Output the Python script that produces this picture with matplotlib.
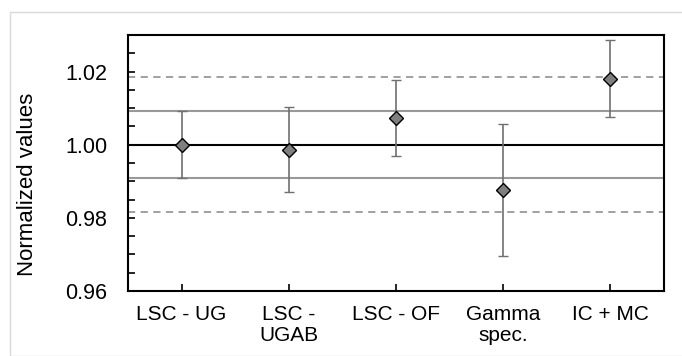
import matplotlib
matplotlib.use("Agg")
import matplotlib.pyplot as plt
from matplotlib.patches import Rectangle
from matplotlib.ticker import MultipleLocator

plt.rcParams['font.family'] = ['Liberation Sans', 'DejaVu Sans']

# Measurement methods and their normalized results with uncertainties
methods = ["LSC - UG", "LSC -\nUGAB", "LSC - OF", "Gamma\nspec.", "IC + MC"]
values = [1.000, 0.9986, 1.0074, 0.9876, 1.0180]
errors = [0.0092, 0.0116, 0.0104, 0.0180, 0.0105]

reference = 1.000
band_1sigma = 0.0092
band_2sigma = 0.0184

fig = plt.figure(figsize=(6.82, 3.56), dpi=100)
fig.patches.append(Rectangle((10 / 682, 0), 1.2, (356 - 12) / 356,
                             transform=fig.transFigure, fill=False,
                             edgecolor="#d9d9d9", linewidth=1.0))

ax = fig.add_axes([128 / 682, (356 - 291) / 356, (664 - 128) / 682, (291 - 35) / 356])

x = list(range(len(methods)))

ax.axhline(reference, color="black", lw=1.5, zorder=1)
ax.axhline(reference + band_1sigma, color="#999999", lw=1.5, zorder=1)
ax.axhline(reference - band_1sigma, color="#999999", lw=1.5, zorder=1)
ax.axhline(reference + band_2sigma, color="#999999", lw=1.3, ls=(0, (4, 3)), zorder=1)
ax.axhline(reference - band_2sigma, color="#999999", lw=1.3, ls=(0, (4, 3)), zorder=1)

ax.errorbar(x, values, yerr=errors, fmt="D", ms=7, mfc="#7f7f7f", mec="black",
            mew=1.0, ecolor="#707070", elinewidth=1.2, capsize=3.5, capthick=1.2,
            zorder=3)

ax.set_xlim(-0.5, len(methods) - 0.5)
ax.set_ylim(0.96, 1.03)
ax.set_xticks(x)
ax.set_xticklabels(methods, fontsize=15, linespacing=1.15)
ax.set_yticks([0.96, 0.98, 1.00, 1.02])
ax.set_yticklabels(["0.96", "0.98", "1.00", "1.02"], fontsize=15.5)
ax.yaxis.set_minor_locator(MultipleLocator(0.005))

ax.tick_params(axis="both", which="both", direction="in", length=5, width=1.2,
               color="black")
ax.tick_params(axis="y", which="major", pad=15)
ax.tick_params(axis="x", which="major", pad=10)
ax.tick_params(axis="x", which="minor", bottom=False)

for side in ax.spines.values():
    side.set_linewidth(1.5)
    side.set_color("black")

ax.set_ylabel("Normalized values", fontsize=16)
ax.yaxis.set_label_coords(-(128 - 38) / 536, (291 - 184) / 256)

fig.savefig("out.png", dpi=100)
